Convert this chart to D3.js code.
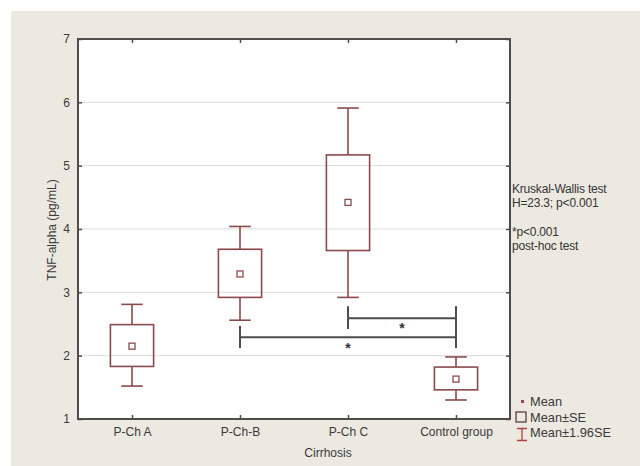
<!DOCTYPE html>
<html>
<head>
<meta charset="utf-8">
<script src="https://cdn.jsdelivr.net/npm/d3@7"></script>
<style>
  body { margin: 0; background: #fff; }
  svg { display: block; font-family: "Liberation Sans", Arial, sans-serif; }
</style>
</head>
<body>
<div id="chart"></div>
<script>
// Data
var categories = ["P-Ch A", "P-Ch-B", "P-Ch C", "Control group"];
var means  = [2.15, 3.29, 4.42, 1.63];
var seLow  = [1.83, 2.92, 3.66, 1.46];
var seHigh = [2.49, 3.68, 5.17, 1.82];
var ciLow  = [1.52, 2.56, 2.92, 1.30];
var ciHigh = [2.81, 4.04, 5.91, 1.98];
var yTicks = [1, 2, 3, 4, 5, 6, 7];

// post-hoc comparisons: bracket height and extent of its end lines
var compFrom   = ["P-Ch-B", "P-Ch C"];
var compTo     = ["Control group", "Control group"];
var compLevel  = [2.29, 2.59];
var fromTop    = [2.47, 2.78];
var fromBottom = [2.12, 2.42];
var toTop      = [2.78, 2.78];
var toBottom   = [2.12, 2.12];
var starLevel  = [2.17, 2.49];

var notes = ["Kruskal-Wallis test", "H=23.3; p<0.001", "", "*p<0.001", "post-hoc test"];

var width = 640, height = 466;
var margin = {top: 39, right: 130, bottom: 47, left: 78};
var boxColor = "#8c4a4c";
var lineColor = "#4d4d4d";

var svg = d3.select("#chart")
  .append("svg")
  .attr("width", width)
  .attr("height", height);

// beige panel
svg.append("rect")
  .attr("x", 11).attr("y", 11)
  .attr("width", width - 11).attr("height", height - 11)
  .attr("fill", "#ece9e1");

var x = d3.scalePoint()
  .domain(categories)
  .range([margin.left, width - margin.right])
  .padding(0.5);

var y = d3.scaleLinear()
  .domain([1, 7])
  .range([height - margin.bottom, margin.top]);

var step = x.step();

// plot area
svg.append("rect")
  .attr("x", margin.left).attr("y", margin.top)
  .attr("width", width - margin.left - margin.right)
  .attr("height", height - margin.top - margin.bottom)
  .attr("fill", "#fff");

// grid lines
svg.append("g")
  .selectAll("line")
  .data(yTicks.slice(1, -1))
  .join("line")
  .attr("x1", margin.left).attr("x2", width - margin.right)
  .attr("y1", d => y(d)).attr("y2", d => y(d))
  .attr("stroke", "#dcdcdc")
  .attr("stroke-width", 1);

// axes, ticks pointing inward
var axisLeft = svg.append("g")
  .attr("transform", `translate(${margin.left},0)`)
  .call(d3.axisLeft(y).tickValues(yTicks).tickFormat(d3.format("d")).tickSizeInner(-4).tickSizeOuter(0).tickPadding(8));
var axisRight = svg.append("g")
  .attr("transform", `translate(${width - margin.right},0)`)
  .call(d3.axisRight(y).tickValues(yTicks).tickFormat("").tickSizeInner(-4).tickSizeOuter(0));
var axisBottom = svg.append("g")
  .attr("transform", `translate(0,${height - margin.bottom})`)
  .call(d3.axisBottom(x).tickSizeInner(-4).tickSizeOuter(0).tickPadding(8));
var axisTop = svg.append("g")
  .attr("transform", `translate(0,${margin.top})`)
  .call(d3.axisTop(x).tickFormat("").tickSizeInner(-4).tickSizeOuter(0));

[axisLeft, axisRight, axisBottom, axisTop].forEach(function(g) {
  g.select(".domain").remove();
  g.selectAll(".tick line").attr("stroke", lineColor).attr("stroke-width", 1.5);
  g.selectAll(".tick text")
    .attr("fill", "#3a3a3a")
    .attr("font-size", 12)
    .attr("font-family", "\"Liberation Sans\", Arial, sans-serif");
});

// frame
svg.append("rect")
  .attr("x", margin.left).attr("y", margin.top)
  .attr("width", width - margin.left - margin.right)
  .attr("height", height - margin.top - margin.bottom)
  .attr("fill", "none")
  .attr("stroke", lineColor)
  .attr("stroke-width", 2);

// axis titles
svg.append("text")
  .attr("transform", "translate(56,230) rotate(-90)")
  .attr("text-anchor", "middle")
  .attr("font-size", 12)
  .attr("fill", "#3a3a3a")
  .text("TNF-alpha (pg/mL)");

svg.append("text")
  .attr("x", 328).attr("y", 457)
  .attr("text-anchor", "middle")
  .attr("font-size", 12)
  .attr("fill", "#3a3a3a")
  .text("Cirrhosis");

// box plots
var groups = categories.map(function(c, i) {
  return {name: c, mean: means[i], seLow: seLow[i], seHigh: seHigh[i], ciLow: ciLow[i], ciHigh: ciHigh[i]};
});

var boxW = step * 0.4, capW = step * 0.2, meanW = 6;

var g = svg.append("g")
  .attr("stroke", boxColor)
  .attr("stroke-width", 1.6)
  .attr("fill", "none")
  .selectAll("g")
  .data(groups)
  .join("g");

// whiskers
g.append("line")
  .attr("x1", d => x(d.name)).attr("x2", d => x(d.name))
  .attr("y1", d => y(d.seHigh)).attr("y2", d => y(d.ciHigh));
g.append("line")
  .attr("x1", d => x(d.name)).attr("x2", d => x(d.name))
  .attr("y1", d => y(d.seLow)).attr("y2", d => y(d.ciLow));
g.append("line")
  .attr("x1", d => x(d.name) - capW / 2).attr("x2", d => x(d.name) + capW / 2)
  .attr("y1", d => y(d.ciHigh)).attr("y2", d => y(d.ciHigh));
g.append("line")
  .attr("x1", d => x(d.name) - capW / 2).attr("x2", d => x(d.name) + capW / 2)
  .attr("y1", d => y(d.ciLow)).attr("y2", d => y(d.ciLow));

// SE boxes
g.append("rect")
  .attr("x", d => x(d.name) - boxW / 2)
  .attr("y", d => y(d.seHigh))
  .attr("width", boxW)
  .attr("height", d => y(d.seLow) - y(d.seHigh));

// mean markers
g.append("rect")
  .attr("x", d => x(d.name) - meanW / 2)
  .attr("y", d => y(d.mean) - meanW / 2)
  .attr("width", meanW).attr("height", meanW)
  .attr("stroke-width", 1.3);

// significance brackets
var comps = compFrom.map(function(f, i) {
  return {from: f, to: compTo[i], level: compLevel[i], fTop: fromTop[i], fBot: fromBottom[i],
          tTop: toTop[i], tBot: toBottom[i], star: starLevel[i]};
});

var br = svg.append("g")
  .attr("stroke", lineColor)
  .attr("stroke-width", 2)
  .selectAll("g")
  .data(comps)
  .join("g");

br.append("line")
  .attr("x1", d => x(d.from)).attr("x2", d => x(d.to))
  .attr("y1", d => y(d.level)).attr("y2", d => y(d.level));
br.append("line")
  .attr("x1", d => x(d.from)).attr("x2", d => x(d.from))
  .attr("y1", d => y(d.fTop)).attr("y2", d => y(d.fBot));
br.append("line")
  .attr("x1", d => x(d.to)).attr("x2", d => x(d.to))
  .attr("y1", d => y(d.tTop)).attr("y2", d => y(d.tBot));

// stars: the first sits under the C end, the second mid-bracket
svg.append("g")
  .selectAll("text")
  .data(comps)
  .join("text")
  .attr("x", (d, i) => i === 0 ? x("P-Ch C") : (x(d.from) + x(d.to)) / 2)
  .attr("y", d => y(d.star))
  .attr("dy", "0.6em")
  .attr("text-anchor", "middle")
  .attr("font-size", 14)
  .attr("font-weight", "bold")
  .attr("fill", "#333")
  .text("*");

// test notes on the right
svg.append("g")
  .selectAll("text")
  .data(notes)
  .join("text")
  .attr("x", width - margin.right + 2)
  .attr("y", (d, i) => 193 + i * 14.3)
  .attr("font-size", 12)
  .attr("letter-spacing", -0.2)
  .attr("fill", "#333")
  .text(d => d);

// legend
var legX = width - margin.right + 10;
var leg = svg.append("g");
leg.append("rect")
  .attr("x", legX + 1).attr("y", 400).attr("width", 3).attr("height", 3)
  .attr("fill", boxColor);
leg.append("rect")
  .attr("x", legX - 4).attr("y", 412).attr("width", 10).attr("height", 10)
  .attr("fill", "none").attr("stroke", "#5a3c3c").attr("stroke-width", 1.3);
leg.append("path")
  .attr("d", `M${legX - 3},428.5H${legX + 7}M${legX + 2},428.5V440.5M${legX - 3},440.5H${legX + 7}`)
  .attr("fill", "none").attr("stroke", "#b04040").attr("stroke-width", 1.3);

leg.selectAll("text")
  .data(["Mean", "Mean\u00b1SE", "Mean\u00b11.96SE"])
  .join("text")
  .attr("x", legX + 10)
  .attr("y", (d, i) => 406 + i * 15.5)
  .attr("font-size", 12.8)
  .attr("fill", "#3a3a3a")
  .text(d => d);
</script>
</body>
</html>
